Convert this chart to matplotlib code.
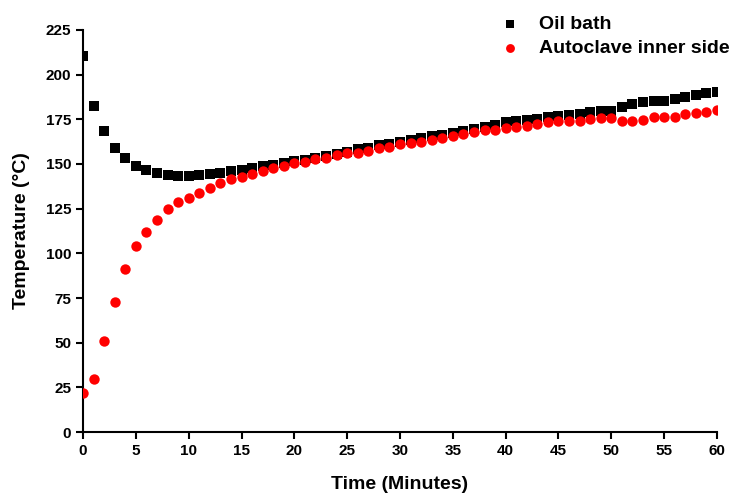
import numpy as np
import matplotlib
matplotlib.use("Agg")
import matplotlib.pyplot as plt

plt.rcParams['font.family'] = ['Liberation Sans', 'DejaVu Sans']

# time in minutes, one reading per minute
time_min = np.arange(0, 61)

# oil bath temperature (degC)
oil_bath = [210.4, 182.4, 168.4, 159.1, 153.5, 149.0, 146.8, 144.8, 143.8, 143.3,
            143.3, 143.8, 144.4, 145.1, 146.0, 146.8, 147.7, 148.8, 149.7, 150.6,
            151.6, 152.5, 153.4, 154.7, 155.8, 156.8, 158.2, 159.2, 160.5, 161.4,
            162.2, 163.3, 164.6, 165.5, 166.5, 167.4, 168.7, 169.7, 170.8, 171.8,
            173.3, 174.0, 174.6, 175.2, 176.1, 176.8, 177.4, 178.0, 178.9, 179.6,
            179.8, 182.0, 183.4, 184.5, 185.1, 185.4, 186.3, 187.3, 188.8, 189.5,
            190.4]

# autoclave inner side temperature (degC)
autoclave = [21.6, 29.7, 51.1, 72.9, 91.2, 104.1, 111.8, 118.6, 124.6, 128.5,
             131.1, 133.6, 136.4, 139.2, 141.6, 142.9, 144.4, 146.2, 147.9, 149.0,
             150.4, 151.3, 152.6, 153.2, 155.0, 156.0, 156.3, 157.2, 158.7, 159.7,
             161.0, 161.9, 162.5, 163.4, 164.7, 165.6, 166.6, 167.7, 169.0, 169.2,
             169.9, 170.5, 171.4, 172.2, 173.7, 174.2, 174.2, 174.2, 175.2, 175.5,
             175.9, 174.2, 174.0, 174.4, 176.1, 176.4, 176.4, 177.8, 178.7, 179.3,
             180.2]

xticks = np.arange(0, 61, 5)
yticks = np.arange(0, 226, 25)

fig = plt.figure(figsize=(7.32, 4.98), dpi=100)
ax = fig.add_axes([0.1134, 0.1325, 0.8661, 0.8073])

ax.scatter(time_min, oil_bath, marker='s', s=44, color='black', linewidths=0,
           label='Oil bath', zorder=3)
ax.scatter(time_min, autoclave, marker='o', s=56, color='#ff0000', linewidths=0,
           label='Autoclave inner side', zorder=4)

ax.set_xlim(0, 60)
ax.set_ylim(0, 225)
ax.set_xticks(xticks)
ax.set_yticks(yticks)

for side in ['top', 'right']:
    ax.spines[side].set_visible(False)
for side in ['left', 'bottom']:
    ax.spines[side].set_linewidth(1.5)
ax.tick_params(direction='out', length=5, width=1.5, labelsize=11)
for lab in ax.get_xticklabels() + ax.get_yticklabels():
    lab.set_fontweight('bold')

ax.set_xlabel('Time (Minutes)', fontsize=14, fontweight='bold', labelpad=13)
ax.set_ylabel('Temperature (°C)', fontsize=14, fontweight='bold', labelpad=11)

leg = ax.legend(loc='upper right', bbox_to_anchor=(1.032, 1.055), frameon=False,
                prop={'weight': 'bold', 'size': 14},
                handletextpad=0.5, labelspacing=0.32, borderaxespad=0,
                markerscale=0.85)

fig.savefig('out.png', dpi=100)
